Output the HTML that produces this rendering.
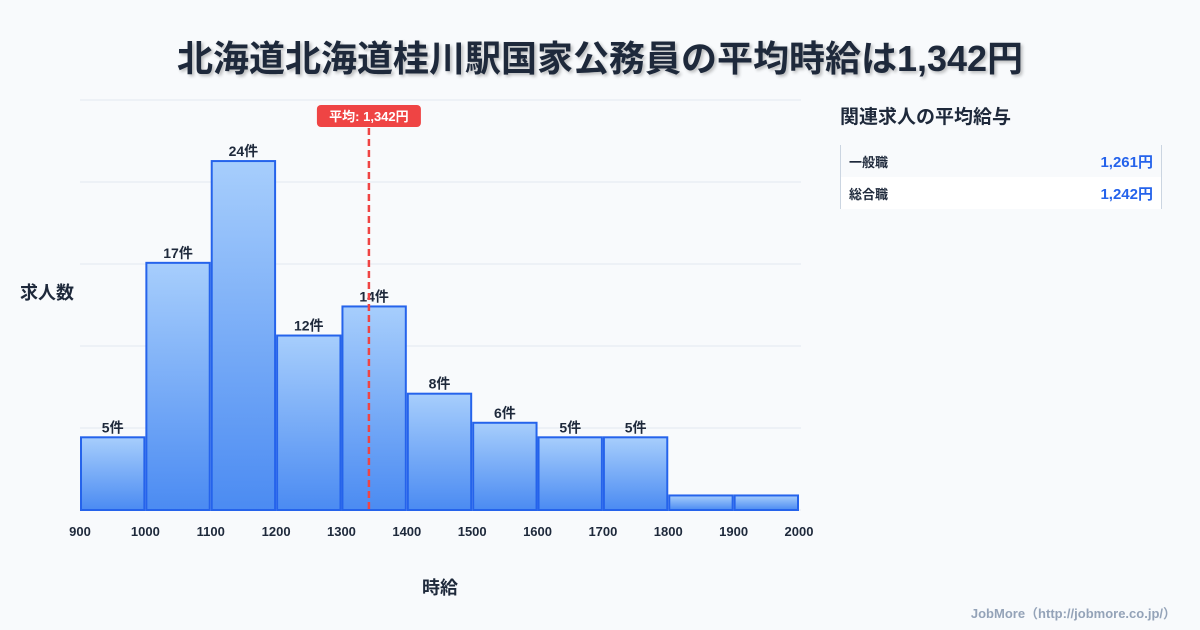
<!DOCTYPE html>
<html><head><meta charset="utf-8"><style>
body{margin:0;width:1200px;height:630px;background:#f8fafc;font-family:"Liberation Sans","Noto Sans CJK JP",sans-serif;overflow:hidden;position:relative;color:#1e293b}
.title{position:absolute;top:30px;left:0;width:1200px;text-align:center;font-size:36px;font-weight:bold;color:#1e293b;text-shadow:2px 2px 3px rgba(0,0,0,.25)}
.side{position:absolute;left:840px;top:102px}
.side h3{margin:0;font-size:19px;font-weight:bold;color:#1e293b}
.tbl{position:absolute;left:840px;top:145px;width:320px;border-left:1px solid #cbd5e1;border-right:1px solid #cbd5e1}
.row{height:32px;display:flex;justify-content:space-between;align-items:center;padding:0 8px;font-size:13px;font-weight:bold}
.row span.v{color:#2563eb;font-size:15px}
.foot{position:absolute;right:24px;bottom:8px;font-size:13px;color:#94a3b8;font-weight:bold}
</style></head><body>
<div class="title">北海道北海道桂川駅国家公務員の平均時給は1,342円</div>
<svg id="c" width="1200" height="630" style="position:absolute;left:0;top:0"></svg>
<div class="side"><h3>関連求人の平均給与</h3></div>
<div class="tbl">
<div class="row" style="background:#f8fafc"><span>一般職</span><span class="v">1,261円</span></div>
<div class="row" style="background:#fff"><span>総合職</span><span class="v">1,242円</span></div>
</div>
<div class="foot">JobMore（http://jobmore.co.jp/）</div>
<script>
const binStarts=[900,1000,1100,1200,1300,1400,1500,1600,1700,1800,1900];
const counts=[5,17,24,12,14,8,6,5,5,1,1];
const xTicks=[900,1000,1100,1200,1300,1400,1500,1600,1700,1800,1900,2000];
const meanValue=1342;
const meanLabel="平均: 1,342円";
const svg=document.getElementById('c');const NS='http://www.w3.org/2000/svg';
const X0=80,X1=799,Y0=510,YT=100,xmin=900,xmax=2000,ymax=28.2;
const x=v=>X0+(v-xmin)/(xmax-xmin)*(X1-X0);
const y=v=>Y0-v/ymax*(Y0-YT);
function mk(t,a){const e=document.createElementNS(NS,t);for(const k in a)e.setAttribute(k,a[k]);svg.appendChild(e);return e;}
const defs=mk('defs',{});
defs.innerHTML='<linearGradient id="g" x1="0" y1="0" x2="0" y2="1"><stop offset="0" stop-color="#a7cefc"/><stop offset="1" stop-color="#4b8bf2"/></linearGradient>';
for(let i=0;i<=5;i++){const gy=Y0-(Y0-YT)*i/5;const l=mk('line',{x1:X0,x2:X1+2,y1:gy,y2:gy,stroke:'#e2e8f0','stroke-width':1});

}
binStarts.forEach((b,i)=>{const xa=x(b)+1,xb=x(b+100)-1,yt=y(counts[i]);
const r=mk('rect',{x:xa,y:yt,width:xb-xa,height:Y0-yt,fill:'url(#g)',stroke:'#2563eb','stroke-width':2});


if(counts[i]>=2){const t=mk('text',{x:(xa+xb)/2,y:yt-5,'text-anchor':'middle','font-size':14,'font-weight':'bold',fill:'#1e293b'});t.textContent=counts[i]+'件';

}});
xTicks.forEach(v=>{const t=mk('text',{x:x(v),y:536,'text-anchor':'middle','font-size':13,'font-weight':'bold',fill:'#1e293b'});t.textContent=v;

});
const mx=x(meanValue);
const ml=mk('line',{x1:mx,x2:mx,y1:128,y2:Y0,stroke:'#ef4444','stroke-width':2.5,'stroke-dasharray':'7,4'});


const mb=mk('rect',{x:mx-52,y:105,width:104,height:22,rx:4,fill:'#ef4444'});


const mt=mk('text',{x:mx,y:121,'text-anchor':'middle','font-size':13,'font-weight':'bold',fill:'#fff'});mt.textContent=meanLabel;


const yl=mk('text',{x:20,y:299,'font-size':18,'font-weight':'bold',fill:'#1e293b'});yl.textContent='求人数';


const xl=mk('text',{x:440,y:594,'text-anchor':'middle','font-size':18,'font-weight':'bold',fill:'#1e293b'});xl.textContent='時給';


</script>
</body></html>
